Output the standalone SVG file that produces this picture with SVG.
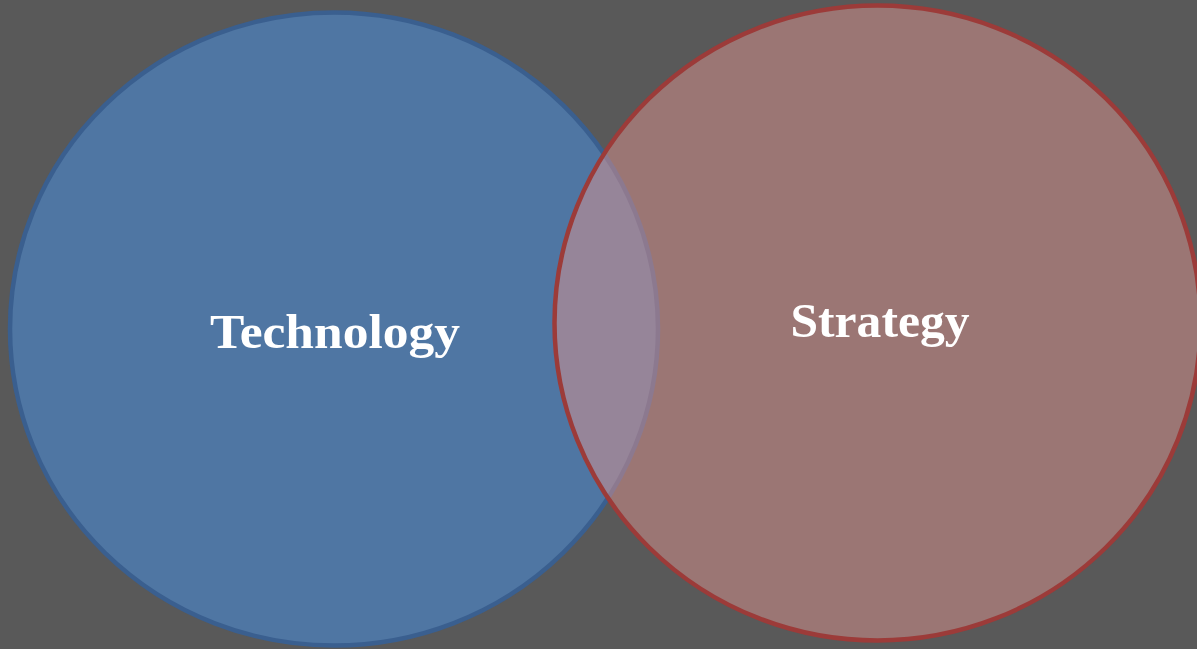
<svg xmlns="http://www.w3.org/2000/svg" width="1197" height="649" viewBox="0 0 1197 649">
  <style>
    .bg { fill: #595959; }
    .set-blue { fill: #4f76a3; stroke: #3a5f8f; stroke-width: 4.5; }
    .set-red { fill: #dd938f; fill-opacity: 0.5; stroke: #9c3b39; stroke-width: 4.5; }
    .label { font-family: "Liberation Serif", "DejaVu Serif", serif; font-weight: bold; font-size: 49px; fill: #ffffff; text-anchor: middle; }
  </style>
  <rect class="bg" x="0" y="0" width="1197" height="649"/>
  <g id="technology">
    <ellipse class="set-blue" cx="334" cy="329" rx="324" ry="316.5"/>
    <text class="label" x="335" y="348" textLength="250" lengthAdjust="spacingAndGlyphs">Technology</text>
  </g>
  <g id="strategy">
    <ellipse class="set-red" cx="877.5" cy="323" rx="323" ry="317.5"/>
    <text class="label" x="880" y="337" textLength="179" lengthAdjust="spacingAndGlyphs">Strategy</text>
  </g>
  <g id="connectors"/>
</svg>
